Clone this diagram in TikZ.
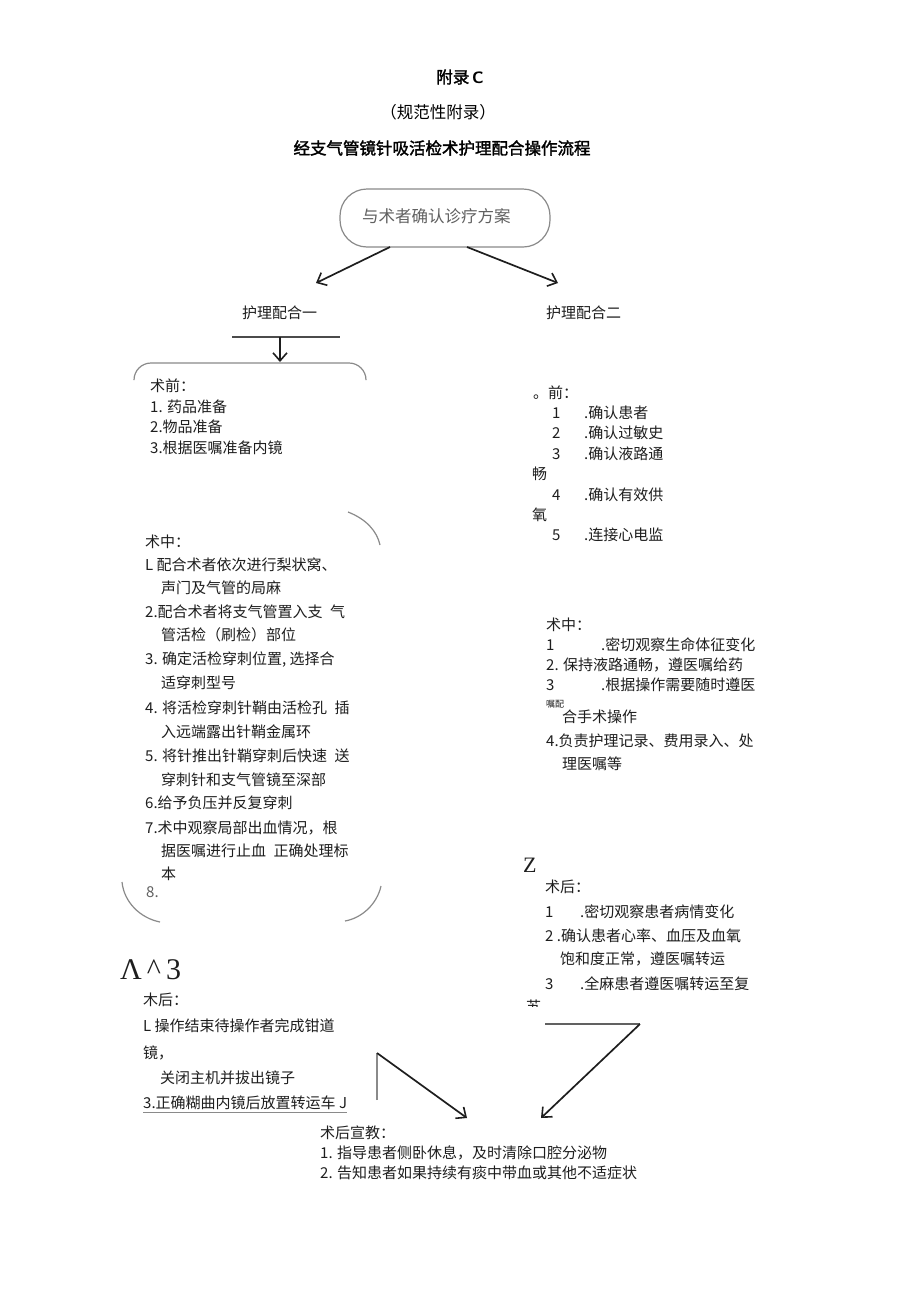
\documentclass[tikz,border=0pt]{standalone}
\usepackage{fontspec}
\setmainfont{Liberation Serif}
\newfontfamily\cjk{Noto Sans CJK SC}
\newfontfamily\cjkbold{Noto Sans CJK SC}[FakeBold=2]
\usetikzlibrary{arrows.meta,calc}
\definecolor{ink}{HTML}{1E1E1E}
\definecolor{boxgray}{HTML}{8A8A8A}
\tikzset{
  txt/.style={anchor=west, inner sep=0pt, text=ink, font=\cjk\fontsize{15}{17}\selectfont},
  smalltxt/.style={anchor=west, inner sep=0pt, text=ink, font=\cjk\fontsize{9}{10}\selectfont},
  bigtxt/.style={anchor=west, inner sep=0pt, text=ink, font=\fontsize{30}{32}\selectfont},
  heading/.style={anchor=center, inner sep=0pt, text=black, font=\cjkbold\fontsize{16.5}{19}\selectfont},
  boxline/.style={draw=boxgray, line width=1.2pt},
  flowarrow/.style={draw=ink, line width=1.7pt, -{Straight Barb[length=8pt,width=14pt,line width=1.6pt]}},
  plainline/.style={draw=ink, line width=1.3pt},
  grayline/.style={draw=boxgray, line width=1.2pt}
}
\begin{document}
\begin{tikzpicture}[x=1pt,y=-1pt]
\useasboundingbox[fill=white] (0,0) rectangle (920,1301);

% Titles
\node[heading] (t1) at (460,77) {附录\,\textsf{\bfseries C}};
\node[heading, font=\cjk\fontsize{16.5}{19}\selectfont] (t2) at (438,112) {（规范性附录）};
\node[heading] (t3) at (442,148) {经支气管镜针吸活检术护理配合操作流程};

% Top rounded box
\node[boxline, rounded corners=27pt, minimum width=210pt, minimum height=58pt, inner sep=0pt] (plan) at (445,218) {};
\node[txt, text=gray!75!black, font=\cjk\fontsize{16.5}{19}\selectfont] (plantxt) at (362,216) {与术者确认诊疗方案};

\coordinate (pl) at (390,247);
\coordinate (pr) at (467,247);
\coordinate (al) at (316,283);
\coordinate (ar) at (558,283);
\draw[flowarrow] (pl) -- (al);
\draw[flowarrow] (pr) -- (ar);

\node[txt] (c1) at (242,313) {护理配合一};
\node[txt] (c2) at (546,313) {护理配合二};

% line + arrow to left box
\coordinate (h1) at (232,337);
\coordinate (h2) at (340,337);
\coordinate (hm) at (280,337);
\coordinate (hd) at (280,362);
\draw[plainline, draw=ink!80] (h1) -- (h2);
\draw[flowarrow, line width=1.4pt] (hm) -- (hd);

% Left box fragments
\draw[boxline, rounded corners=17pt] (134,379) -- (134,363) -- (366,363) -- (366,379);
\draw[boxline] (348,512) .. controls (366,519) and (377,531) .. (380,545);
\draw[boxline] (122,882) .. controls (124,902) and (140,918) .. (160,922);
\draw[boxline] (381,886) .. controls (377,904) and (362,918) .. (345,921);

% Left column: pre-op
\node[txt] (l1) at (150,386) {术前：};
\node[txt] (l2) at (150,407) {1. 药品准备};
\node[txt] (l3) at (150,427) {2.物品准备};
\node[txt] (l4) at (150,448) {3.根据医嘱准备内镜};

% Left column: intra-op
\node[txt] (m0) at (145,542) {术中：};
\node[txt] (m1) at (145,565) {L 配合术者依次进行梨状窝、};
\node[txt] (m2) at (161,588) {声门及气管的局麻};
\node[txt] (m3) at (145,612) {2.配合术者将支气管置入支\enspace 气};
\node[txt] (m4) at (161,635) {管活检（刷检）部位};
\node[txt] (m5) at (145,660) {3. 确定活检穿刺位置, 选择合};
\node[txt] (m6) at (161,683) {适穿刺型号};
\node[txt] (m7) at (145,708) {4. 将活检穿刺针鞘由活检孔\enspace 插};
\node[txt] (m8) at (161,732) {入远端露出针鞘金属环};
\node[txt] (m9) at (145,756) {5. 将针推出针鞘穿刺后快速\enspace 送};
\node[txt] (m10) at (161,780) {穿刺针和支气管镜至深部};
\node[txt] (m11) at (145,803) {6.给予负压并反复穿刺};
\node[txt] (m12) at (145,828) {7.术中观察局部出血情况，根};
\node[txt] (m13) at (161,851) {据医嘱进行止血\enspace 正确处理标};
\node[txt] (m14) at (161,874) {本};
\node[txt, text=ink!70] (m15) at (146,892) {8.};

% Right column: pre-op
\node[txt] (r0) at (533,393) {。前：};
\node[txt] (r1n) at (552,413) {1};
\node[txt] (r1) at (584,413) {.确认患者};
\node[txt] (r2n) at (552,433) {2};
\node[txt] (r2) at (584,433) {.确认过敏史};
\node[txt] (r3n) at (552,454) {3};
\node[txt] (r3) at (584,454) {.确认液路通};
\node[txt] (r3b) at (532,474) {畅};
\node[txt] (r4n) at (552,495) {4};
\node[txt] (r4) at (584,495) {.确认有效供};
\node[txt] (r4b) at (532,515) {氧};
\node[txt] (r5n) at (552,535) {5};
\node[txt] (r5) at (584,535) {.连接心电监};

% Right column: intra-op
\node[txt] (s0) at (546,625) {术中：};
\node[txt] (s1n) at (546,645) {1};
\node[txt] (s1) at (601,645) {.密切观察生命体征变化};
\node[txt] (s2) at (546,665) {2. 保持液路通畅，遵医嘱给药};
\node[txt] (s3n) at (546,685) {3};
\node[txt] (s3) at (601,685) {.根据操作需要随时遵医};
\node[smalltxt] (s3b) at (546,704) {嘱配};
\node[txt] (s3c) at (562,717) {合手术操作};
\node[txt] (s4) at (546,741) {4.负责护理记录、费用录入、处};
\node[txt] (s5) at (562,764) {理医嘱等};

% Right column: post-op
\node[txt, font=\fontsize{22}{24}\selectfont] (zz) at (523,865) {Z};
\node[txt] (p0) at (545,887) {术后：};
\node[txt] (p1n) at (545,912) {1};
\node[txt] (p1) at (580,912) {.密切观察患者病情变化};
\node[txt] (p2) at (545,936) {2 .确认患者心率、血压及血氧};
\node[txt] (p3) at (560,959) {饱和度正常，遵医嘱转运};
\node[txt] (p4n) at (545,984) {3};
\node[txt] (p4) at (580,984) {.全麻患者遵医嘱转运至复};
\begin{scope}
\clip (520,998) rectangle (560,1006);
\node[txt] (p5) at (526,1007) {苏};
\end{scope}

% Left column: post-op
\node[bigtxt] (lam) at (120,970) {Λ\,\textasciicircum\,3};
\node[txt] (q0) at (143,1000) {木后：};
\node[txt] (q1) at (143,1026) {L 操作结束待操作者完成钳道};
\node[txt] (q2) at (143,1053) {镜，};
\node[txt] (q3) at (160,1078) {关闭主机并拔出镜子};
\node[txt] (q4) at (143,1103) {3.正确糊曲内镜后放置转运车 \textit{J}};
\draw[grayline, line width=0.9pt] ($(q4.south west)+(0,2)$) -- ($(q4.south east)+(0,2)$);

% Converging arrows
\coordinate (v1) at (377,1053);
\coordinate (v2) at (377,1100);
\coordinate (vt) at (467,1118);
\draw[grayline] (v2) -- (v1);
\draw[flowarrow] (v1) -- (vt);
\coordinate (w1) at (545,1024);
\coordinate (w2) at (640,1024);
\coordinate (wt) at (541,1118);
\draw[grayline, draw=ink!70] (w1) -- (w2);
\draw[flowarrow] (w2) -- (wt);

% Post-op education
\node[txt] (e0) at (320,1133) {术后宣教：};
\node[txt] (e1) at (320,1153) {1. 指导患者侧卧休息，及时清除口腔分泌物};
\node[txt] (e2) at (320,1173) {2. 告知患者如果持续有痰中带血或其他不适症状};
\end{tikzpicture}
\end{document}
